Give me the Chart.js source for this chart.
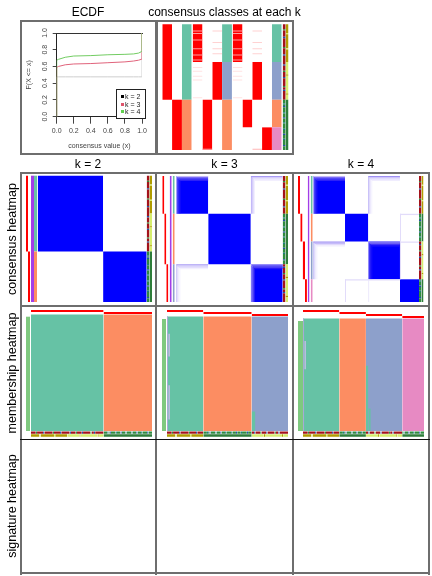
<!DOCTYPE html>
<html>
<head>
<meta charset="utf-8">
<script src="https://cdn.jsdelivr.net/npm/chart.js@4.4.1/dist/chart.umd.min.js"></script>
<style>
  html, body { margin: 0; padding: 0; background: #fff; }
  body { position: relative; width: 432px; height: 576px; overflow: hidden; font-family: "Liberation Sans", Arial, sans-serif; }
  canvas { position: absolute; }
  .lab { position: absolute; white-space: nowrap; font-size: 12px; line-height: 14px; color: #000; transform: translate(-50%, -50%); }
  .rot { font-size: 12.5px; transform: translate(-50%, -50%) rotate(-90deg); }
  .ln { position: absolute; }
</style>
</head>
<body>
<script>
Chart.defaults.font.family = '"Liberation Sans", Arial, sans-serif';

// ---- data ----
// samples in the order of the "consensus classes" panel: groups A, B, C, D
const groupSizes = [30, 30, 22, 18];
const classK2 = [1, 1, 2, 2];
const classK3 = [1, 3, 2, 2];
const classK4 = [1, 3, 2, 4];
const kValues = [2, 3, 4];
const classColors = ['#66C2A5', '#FC8D62', '#8DA0CB', '#E78AC3'];

// two sample annotation tracks, one letter per sample
const anno1 = 'rrrrgrrrrrbrrrrrrrgrrrrrbrrrrr' + 'rrbrrrrgrrrrbrrrrrrgrrbrrrrrrr' + 'gggtgbggggtgggbgggtggg' + 'gtgggbgggtggggbggg';
const anno2 = 'oooooooyoooooooooooyoooooooooo' + 'yyyyyyyyyyoyyyyyyyyyyyyyyoyyyy' + 'GGGGGGGGGGGGGGGGGGGGGG' + 'GGGGGGGGGGGGGGGGGG';
const annoColors = { r: '#A3121B', g: '#2F8A3F', b: '#2450A6', t: '#1E7B80', o: '#B09C00', y: '#D6EE6E', G: '#2E7D3A' };

const ecdfX  = [0, 0, 0.02, 0.1, 0.2, 0.4, 0.6, 0.8, 0.9, 0.96, 0.99, 1, 1];
const ecdfK2 = [0, 0.476, 0.476, 0.476, 0.476, 0.476, 0.476, 0.476, 0.476, 0.476, 0.476, 0.476, 1];
const ecdfK3 = [0, 0.59, 0.6, 0.62, 0.63, 0.635, 0.645, 0.655, 0.665, 0.675, 0.685, 0.69, 1];
const ecdfK4 = [0, 0.675, 0.685, 0.71, 0.725, 0.73, 0.74, 0.745, 0.75, 0.76, 0.775, 0.79, 1];
const ecdfTicks = [0, 0.2, 0.4, 0.6, 0.8, 1];
const ecdfLabels = ['k = 2', 'k = 3', 'k = 4'];
const ecdfLineColors = ['#CFCFCF', '#E0637B', '#72CC62'];
const ecdfKeyColors = ['#000000', '#DF536B', '#61D04F'];

// consensus heatmap: softer rims of blocks [k, row class, col class, shades outside -> in]
const consRims = [
  [3, 1, 1, ['#C3B8F9', '#8F80F4', '#5A4CF4', '#2C20F8']],
  [3, 1, 3, ['#A99BF5', '#CEC4FA', '#E4DEFC', '#F2EFFE']],
  [3, 3, 1, ['#A99BF5', '#CEC4FA', '#E4DEFC', '#F2EFFE']],
  [3, 3, 3, ['#B2A6F7', '#7D6EF3', '#4A3DF5', '#2418F9']],
  [4, 1, 1, ['#C3B8F9', '#8F80F4', '#5A4CF4', '#2C20F8']],
  [4, 1, 3, ['#9F90F3', '#C6BBF9', '#E0D9FB', '#F0EDFE']],
  [4, 3, 1, ['#9F90F3', '#C6BBF9', '#E0D9FB', '#F0EDFE']],
  [4, 3, 3, ['#A89AF5', '#6E5FF2', '#4032F6', '#2014F9']],
  [4, 2, 4, ['#E2DCFA']],
  [4, 3, 4, ['#E2DCFA']],
  [4, 4, 2, ['#E2DCFA']],
  [4, 4, 3, ['#E2DCFA']]
];

// faint stripes in the class probability columns [k, class column, samples, colour]
const classNoise = [
  [3, 1, [5, 7, 12, 19, 24, 28], '#FF9C9C'],
  [3, 1, [34, 37, 41, 44, 58], '#FFE2E2'],
  [3, 3, [5, 14, 19, 23], '#FFD2D2'],
  [3, 2, [99], '#FFB4B4'],
  [4, 1, [5, 7, 12, 19, 24, 28], '#FF9C9C'],
  [4, 1, [34, 37, 41, 44, 58], '#FFE2E2'],
  [4, 3, [5, 14, 19, 23], '#FFD2D2'],
  [4, 3, [99], '#FFB4B4']
];

// membership specks [k, class block, first sample, width, top frac, bottom frac, colour]
const memNoise = [
  [3, 1, 0, 1, 0.0, 1.0, '#A6ABD5'],
  [3, 1, 1, 1.5, 0.15, 0.35, '#B9BDDD'],
  [3, 1, 1, 1.5, 0.6, 0.9, '#B9BDDD'],
  [3, 3, 0, 3, 0.83, 1.0, '#66C2A5'],
  [4, 1, 0, 1, 0.0, 1.0, '#A6ABD5'],
  [4, 1, 1, 1.5, 0.2, 0.45, '#B9BDDD'],
  [4, 3, 0, 2, 0.42, 1.0, '#66C2A5'],
  [4, 3, 2, 2, 0.8, 1.0, '#66C2A5']
];

// ---- layout (page pixels) ----
const gridX = [20, 156, 293, 429];
const gridY = [172, 306, 439, 573];
const consLayout = {
  2: { body: [37.7, 146.7, 175.7, 302], probs: [[26, 28], [28, 30]], purple: [31, 34], cls: [34, 37], anno: [[146.7, 149.5], [149.5, 152]] },
  3: { body: [176.3, 282.7, 176, 302], probs: [[162.3, 164.3], [164.3, 166.3], [166.3, 168.3]], purple: [169.7, 171.7], cls: [172.7, 174.7], anno: [[282.7, 285.5], [285.5, 288]] },
  4: { body: [313.3, 419, 176, 302], probs: [[298, 300], [300.3, 302.5], [302.7, 305], [305, 306.9]], purple: [307.7, 309.5], cls: [310.7, 312.7], anno: [[419, 421.5], [421.5, 423.5]] }
};
const memLayout = {
  2: { body: [31, 152], green: [26, 30, 316.7] },
  3: { body: [167, 288], green: [162, 166, 319] },
  4: { body: [303, 424], green: [298, 303, 321] }
};
const memBarTop = 310, memBarH = 2, memBottom = 431;
const memAnnoRows = [[431.5, 433.7], [434.3, 436.7]];
const classPanel = { box: [158, 22, 133, 131], top: 24.3, bottom: 150, colW: 9.8,
  groupX: { 2: 162.3, 3: 192.7, 4: 232.7 }, anno: [[282.7, 285.7], [285.7, 288.5]] };

// ---- helpers ----
const N = groupSizes.reduce((a, b) => a + b, 0);
const groupStart = [];
groupSizes.reduce((acc, n, i) => { groupStart[i] = acc; return acc + n; }, 0);
const classOf = { 2: classK2, 3: classK3, 4: classK4 };
const samples = [...Array(N).keys()];

function groupOf(s) {
  let g = 0;
  while (g < groupSizes.length - 1 && s >= groupStart[g + 1]) g++;
  return g;
}
function cls(k, s) { return classOf[k][groupOf(s)]; }
function orderFor(k) { return samples.slice().sort((a, b) => cls(k, a) - cls(k, b) || a - b); }
function classSpans(k) {
  const spans = [];
  let pos = 0;
  for (let c = 1; c <= k; c++) {
    const n = samples.filter(s => cls(k, s) === c).length;
    spans.push({ c, start: pos, end: pos + n });
    pos += n;
  }
  return spans;
}
function runs(colors) {
  const out = [];
  colors.forEach((col, i) => {
    const last = out[out.length - 1];
    if (last && last.color === col) last.end = i + 1;
    else out.push({ start: i, end: i + 1, color: col });
  });
  return out;
}
function axisRange(c0, c1, p0, p1, v0, v1) {
  const k = (v1 - v0) / (p1 - p0);
  return { min: v0 + (c0 - p0) * k, max: v0 + (c1 - p0) * k };
}
// a filled cell: a flat line at y0, filled down to y1
function rect(x0, x1, y0, y1, color) {
  return { data: [{ x: x0, y: y0 }, { x: x1, y: y0 }], fill: { value: y1 },
    backgroundColor: color, borderColor: color, borderWidth: 0, pointRadius: 0, tension: 0 };
}
function addCanvas(box) {
  const cv = document.createElement('canvas');
  cv.width = box[2]; cv.height = box[3];
  Object.assign(cv.style, { left: box[0] + 'px', top: box[1] + 'px', width: box[2] + 'px', height: box[3] + 'px' });
  document.body.appendChild(cv);
  return cv;
}
function makeChart(box, xr, yr, datasets) {
  new Chart(addCanvas(box), {
    type: 'line',
    data: { datasets: datasets.slice().reverse() },
    options: {
      responsive: false, animation: false, events: [],
      layout: { padding: 0, autoPadding: false },
      plugins: { legend: { display: false }, tooltip: { enabled: false }, filler: { propagate: false } },
      scales: {
        x: { type: 'linear', display: false, bounds: 'data', min: xr.min, max: xr.max },
        y: { type: 'linear', display: false, bounds: 'data', min: yr.min, max: yr.max, reverse: true }
      }
    }
  });
}

// ---- ECDF ----
function ecdfChart() {
  const box = [22, 22, 132, 130];
  const mk = (ys, color) => ({ data: ecdfX.map((x, i) => ({ x, y: ys[i] })), borderColor: color,
    borderWidth: 1, pointRadius: 0, fill: false, tension: 0 });
  const axisText = { font: { size: 7 }, color: '#444' };
  new Chart(addCanvas(box), {
    type: 'line',
    data: { datasets: [mk(ecdfK4, ecdfLineColors[2]), mk(ecdfK3, ecdfLineColors[1]), mk(ecdfK2, ecdfLineColors[0])] },
    options: {
      responsive: false, animation: false, events: [],
      layout: { padding: { left: 0, top: 11, right: 12, bottom: 0 }, autoPadding: false },
      plugins: { legend: { display: false }, tooltip: { enabled: false } },
      scales: {
        x: { type: 'linear', min: 0, max: 1, bounds: 'data',
          afterBuildTicks: s => { s.ticks = ecdfTicks.map(v => ({ value: v })); },
          afterFit: s => { s.height = 35.3; },
          grid: { display: true, drawOnChartArea: false, tickLength: 7, color: '#444' },
          border: { display: true, color: '#222' },
          ticks: { ...axisText, padding: 3, maxRotation: 0, callback: v => v.toFixed(1) },
          title: { display: true, text: 'consensus value (x)', ...axisText, padding: 2 } },
        y: { type: 'linear', min: 0, max: 1, bounds: 'data',
          afterBuildTicks: s => { s.ticks = ecdfTicks.map(v => ({ value: v })); },
          afterFit: s => { s.width = 34.7; },
          grid: { display: true, drawOnChartArea: false, tickLength: 4, color: '#444' },
          border: { display: true, color: '#222' },
          ticks: { ...axisText, padding: 3, minRotation: 90, maxRotation: 90, crossAlign: 'center', callback: v => v.toFixed(1) },
          title: { display: true, text: 'F(X <= x)', ...axisText, padding: 3 } },
        xTop: { type: 'linear', position: 'top', min: 0, max: 1, display: true,
          grid: { display: false }, ticks: { display: false }, border: { display: true, color: '#333' },
          afterFit: s => { s.height = 0; } }
      }
    }
  });
  const leg = document.createElement('div');
  Object.assign(leg.style, { position: 'absolute', left: '116px', top: '89px', width: '30px', height: '30px',
    border: '1px solid #222', background: '#fff', boxSizing: 'border-box' });
  ecdfLabels.forEach((t, i) => {
    const sq = document.createElement('div');
    Object.assign(sq.style, { position: 'absolute', left: '4px', top: (5.2 + 7.6 * i) + 'px', width: '3px', height: '3px', background: ecdfKeyColors[i] });
    const tx = document.createElement('div');
    Object.assign(tx.style, { position: 'absolute', left: '8px', top: (3 + 7.6 * i) + 'px', font: '7px "Liberation Sans", Arial, sans-serif',
      lineHeight: '7px', whiteSpace: 'nowrap', color: '#222' });
    tx.textContent = t;
    leg.appendChild(sq); leg.appendChild(tx);
  });
  document.body.appendChild(leg);
}

// ---- consensus classes at each k ----
function classesPanel() {
  const P = classPanel;
  const ds = [];
  kValues.forEach(k => {
    const x0 = P.groupX[k];
    for (let c = 1; c <= k; c++) {
      const cx = x0 + (c - 1) * P.colW;
      runs(samples.map(s => cls(k, s) === c ? '#FF0000' : null)).filter(r => r.color)
        .forEach(r => ds.push(rect(cx, cx + P.colW, r.start, r.end, r.color)));
    }
    const cx = x0 + k * P.colW;
    runs(samples.map(s => classColors[cls(k, s) - 1]))
      .forEach(r => ds.push(rect(cx, cx + P.colW, r.start, r.end, r.color)));
  });
  classNoise.forEach(([k, c, rows, col]) => {
    const cx = P.groupX[k] + (c - 1) * P.colW;
    rows.forEach(s => ds.push(rect(cx, cx + P.colW, s, s + 0.8, col)));
  });
  [anno1, anno2].forEach((a, j) => {
    runs([...a].map(ch => annoColors[ch]))
      .forEach(r => ds.push(rect(P.anno[j][0], P.anno[j][1], r.start, r.end, r.color)));
  });
  makeChart(P.box, { min: P.box[0], max: P.box[0] + P.box[2] },
    axisRange(P.box[1], P.box[1] + P.box[3], P.top, P.bottom, 0, N), ds);
}

// ---- consensus heatmaps ----
function consensusPanel(k, i) {
  const L = consLayout[k];
  const spans = classSpans(k);
  const order = orderFor(k);
  const toX = px => (px - L.body[0]) / (L.body[1] - L.body[0]) * N;
  const ds = [];
  spans.forEach(sp => ds.push(rect(sp.start, sp.end, sp.start, sp.end, '#0000FF')));
  consRims.filter(r => r[0] === k).forEach(([, rc, cc, shades]) => {
    const R = spans[rc - 1], C = spans[cc - 1];
    shades.forEach((col, s) => {
      ds.push(rect(C.start + s, C.end, R.start + s, R.start + s + 1, col));
      ds.push(rect(C.start + s, C.start + s + 1, R.start + s, R.end, col));
    });
  });
  spans.forEach((sp, j) => {
    const p = L.probs[j];
    ds.push(rect(toX(p[0]), toX(p[1]), sp.start, sp.end, '#FF0000'));
    ds.push(rect(toX(L.cls[0]), toX(L.cls[1]), sp.start, sp.end, classColors[sp.c - 1]));
  });
  ds.push(rect(toX(L.purple[0]), toX(L.purple[1]), 0, N, '#A23DE8'));
  [anno1, anno2].forEach((a, j) => {
    runs(order.map(s => annoColors[a[s]]))
      .forEach(r => ds.push(rect(toX(L.anno[j][0]), toX(L.anno[j][1]), r.start, r.end, r.color)));
  });
  const box = [gridX[i] + 2, gridY[0] + 2, gridX[i + 1] - gridX[i] - 2, gridY[1] - gridY[0] - 3];
  makeChart(box, axisRange(box[0], box[0] + box[2], L.body[0], L.body[1], 0, N),
    axisRange(box[1], box[1] + box[3], L.body[2], L.body[3], 0, N), ds);
}

// ---- membership heatmaps ----
function membershipPanel(k, i) {
  const L = memLayout[k];
  const spans = classSpans(k);
  const order = orderFor(k);
  const toX = px => (px - L.body[0]) / (L.body[1] - L.body[0]) * N;
  const bodyTop = memBarTop + memBarH * k + 0.5;
  const h = memBottom - bodyTop;
  const ds = [];
  spans.forEach((sp, j) => {
    ds.push(rect(sp.start, sp.end, bodyTop, memBottom, classColors[sp.c - 1]));
    ds.push(rect(sp.start, sp.end, memBarTop + memBarH * j, memBarTop + memBarH * (j + 1), '#FF0000'));
  });
  memNoise.filter(n => n[0] === k).forEach(([, c, off, w, f0, f1, col]) => {
    const sp = spans[c - 1];
    ds.push(rect(sp.start + off, sp.start + off + w, bodyTop + f0 * h, bodyTop + f1 * h, col));
  });
  ds.push(rect(toX(L.green[0]), toX(L.green[1]), L.green[2], memBottom, '#7FC97F'));
  [anno1, anno2].forEach((a, j) => {
    runs(order.map(s => annoColors[a[s]]))
      .forEach(r => ds.push(rect(r.start, r.end, memAnnoRows[j][0], memAnnoRows[j][1], r.color)));
  });
  const box = [gridX[i] + 2, gridY[1] + 2, gridX[i + 1] - gridX[i] - 2, gridY[2] - gridY[1] - 3];
  makeChart(box, axisRange(box[0], box[0] + box[2], L.body[0], L.body[1], 0, N),
    { min: box[1], max: box[1] + box[3] }, ds);
}

// ---- frame and labels ----
function block(x, y, w, h, color) {
  const d = document.createElement('div');
  d.className = 'ln';
  Object.assign(d.style, { left: x + 'px', top: y + 'px', width: w + 'px', height: h + 'px', background: color });
  document.body.appendChild(d);
}
function label(text, x, y, rotated) {
  const d = document.createElement('div');
  d.className = rotated ? 'lab rot' : 'lab';
  d.style.left = x + 'px'; d.style.top = y + 'px';
  d.textContent = text;
  document.body.appendChild(d);
}

ecdfChart();
classesPanel();
kValues.forEach((k, i) => { consensusPanel(k, i); membershipPanel(k, i); });

const gray = '#6E6E6E';
// top two boxes
[[20, 156], [156, 293]].forEach(([x0, x1]) => {
  block(x0 - 0.5, 20, x1 - x0 + 1.5, 2, gray);
  block(x0 - 0.5, 153, x1 - x0 + 1.5, 2, gray);
  block(x0 - 0.5, 20, 2, 135, gray);
  block(x1 - 1, 20, 2, 135, gray);
});
// main grid
gridX.forEach((x, i) => block(i === 0 ? x : x - 1, gridY[0], 2, gridY[3] - gridY[0] + 2, gray));
block(gridX[0], gridY[0], gridX[3] - gridX[0] + 1, 2, gray);
block(gridX[0], gridY[1] - 1, gridX[3] - gridX[0] + 1, 2, gray);
block(gridX[0], gridY[2], gridX[3] - gridX[0] + 1, 1, '#111');
block(gridX[0], gridY[3] - 1, gridX[3] - gridX[0] + 1, 2, gray);

label('ECDF', 88, 12);
label('consensus classes at each k', 224.5, 12);
kValues.forEach((k, i) => label('k = ' + k, (gridX[i] + gridX[i + 1]) / 2, 163.5));
label('consensus heatmap', 12, (gridY[0] + gridY[1]) / 2, true);
label('membership heatmap', 12, (gridY[1] + gridY[2]) / 2, true);
label('signature heatmap', 12, (gridY[2] + gridY[3]) / 2, true);
</script>
</body>
</html>
